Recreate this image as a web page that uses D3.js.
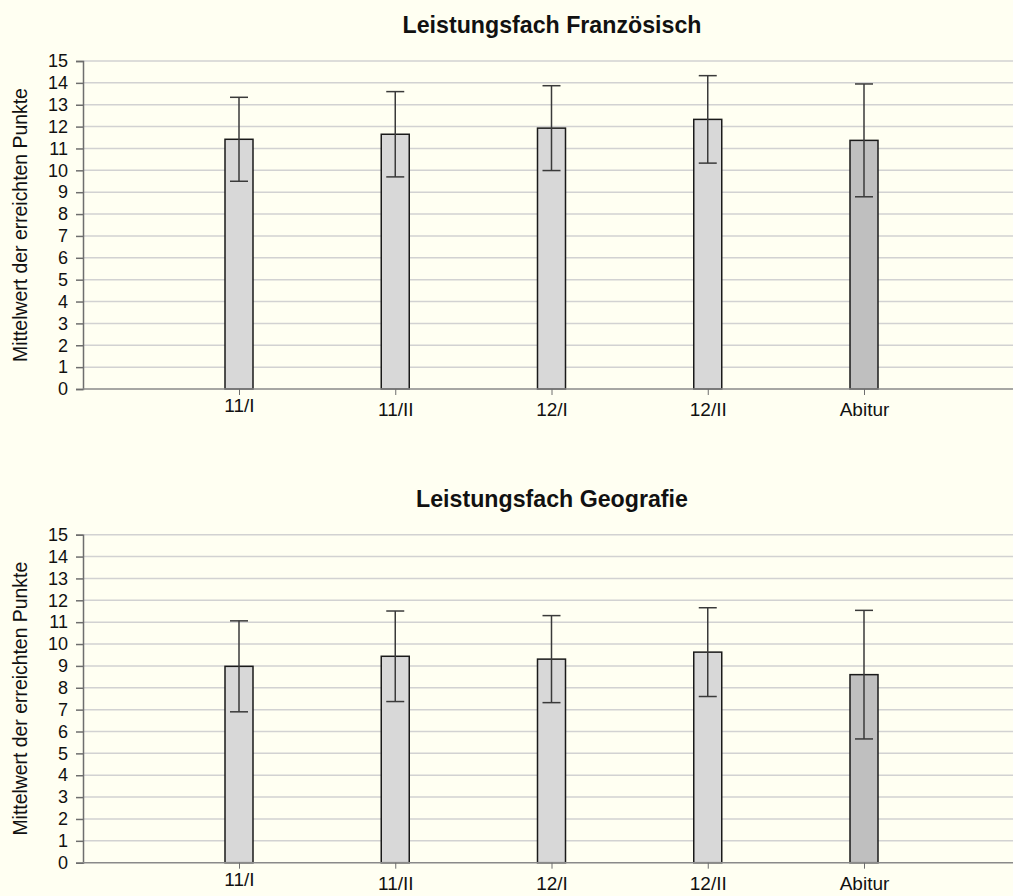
<!DOCTYPE html>
<html>
<head>
<meta charset="utf-8">
<script src="https://cdn.jsdelivr.net/npm/d3@7"></script>
<style>
  html, body { margin: 0; padding: 0; background: #fffff2; }
  svg { display: block; }
  text { font-family: "Liberation Sans", Arial, sans-serif; fill: #111; }
</style>
</head>
<body>
<svg id="chart" width="1013" height="896"></svg>
<script>
// ---- data ----
const categories = ["11/I", "11/II", "12/I", "12/II", "Abitur"];
const titles = ["Leistungsfach Französisch", "Leistungsfach Geografie"];
const yTicks = [0, 1, 2, 3, 4, 5, 6, 7, 8, 9, 10, 11, 12, 13, 14, 15];
const yAxisTitle = "Mittelwert der erreichten Punkte";
const franzMean = [11.42, 11.65, 11.93, 12.33, 11.37];
const franzSD   = [1.92, 1.95, 1.94, 2.00, 2.58];
const geoMean   = [8.98, 9.44, 9.31, 9.63, 8.60];
const geoSD     = [2.08, 2.07, 1.99, 2.03, 2.94];

const panels = [
  { title: titles[0], mean: franzMean, sd: franzSD, offset: 0 },
  { title: titles[1], mean: geoMean, sd: geoSD, offset: 473.7 }
];

const svg = d3.select("#chart");
const W = 1013;
const left = 83;

svg.append("rect").attr("width", W).attr("height", 896).attr("fill", "#fffff2");

panels.forEach(p => {
  const g = svg.append("g").attr("transform", `translate(0,${p.offset})`);
  const y = d3.scaleLinear().domain([0, 15]).range([389, 61]);
  const x = d3.scalePoint().domain(categories).range([239, 864]);
  const barW = 28;

  // title
  g.append("text")
    .attr("x", 552).attr("y", 33)
    .attr("text-anchor", "middle")
    .style("font-size", "23.2px").style("font-weight", "bold")
    .text(p.title);

  // gridlines
  g.append("g").selectAll("line")
    .data(yTicks.filter(d => d > 0))
    .join("line")
    .attr("x1", left).attr("x2", W)
    .attr("y1", d => y(d)).attr("y2", d => y(d))
    .attr("stroke", "#d2d2d2").attr("stroke-width", 1.5);

  // y axis
  const ya = g.append("g").attr("transform", `translate(${left},0)`)
    .call(d3.axisLeft(y).tickValues(yTicks).tickSize(7).tickPadding(8).tickFormat(d3.format("d")));
  ya.select(".domain").attr("stroke", "#6e6e6e").attr("stroke-width", 1.5);
  ya.selectAll(".tick line").attr("stroke", "#6e6e6e").attr("stroke-width", 1.5);
  ya.selectAll(".tick text").style("font-size", "18px").attr("fill", "#111")
    .style("font-family", "'Liberation Sans', Arial, sans-serif");

  // y axis title
  g.append("text")
    .attr("transform", `translate(27,225) rotate(-90)`)
    .attr("text-anchor", "middle")
    .style("font-size", "19.4px")
    .text(yAxisTitle);

  // bars
  g.append("g").selectAll("rect")
    .data(categories)
    .join("rect")
    .attr("x", d => x(d) - barW / 2)
    .attr("y", (d, i) => y(p.mean[i]))
    .attr("width", barW)
    .attr("height", (d, i) => y(0) - y(p.mean[i]))
    .attr("fill", (d, i) => i === categories.length - 1 ? "#bfbfbf" : "#d8d8d8")
    .attr("stroke", "#1a1a1a").attr("stroke-width", 1.5);

  // x axis
  g.append("line")
    .attr("x1", left).attr("x2", W)
    .attr("y1", y(0)).attr("y2", y(0))
    .attr("stroke", "#8a8a8a").attr("stroke-width", 1.5);
  const xa = g.append("g").attr("transform", `translate(0,${y(0)})`)
    .call(d3.axisBottom(x).tickSize(6).tickPadding(8));
  xa.select(".domain").remove();
  xa.selectAll(".tick line").attr("stroke", "#6e6e6e").attr("stroke-width", 1);
  xa.selectAll(".tick text")
    .style("font-size", "19px").attr("fill", "#111")
    .style("font-family", "'Liberation Sans', Arial, sans-serif")
    .attr("y", (d, i) => i === 0 ? 10 : 14)
    .attr("dy", "0.71em");

  // error bars
  const eb = g.append("g").attr("stroke", "#3a3a3a").attr("stroke-width", 1.5);
  categories.forEach((c, i) => {
    const cx = x(c);
    const hi = y(p.mean[i] + p.sd[i]);
    const lo = y(p.mean[i] - p.sd[i]);
    eb.append("line").attr("x1", cx).attr("x2", cx).attr("y1", hi).attr("y2", lo);
    eb.append("line").attr("x1", cx - 9).attr("x2", cx + 9).attr("y1", hi).attr("y2", hi);
    eb.append("line").attr("x1", cx - 9).attr("x2", cx + 9).attr("y1", lo).attr("y2", lo);
  });
});
</script>
</body>
</html>
